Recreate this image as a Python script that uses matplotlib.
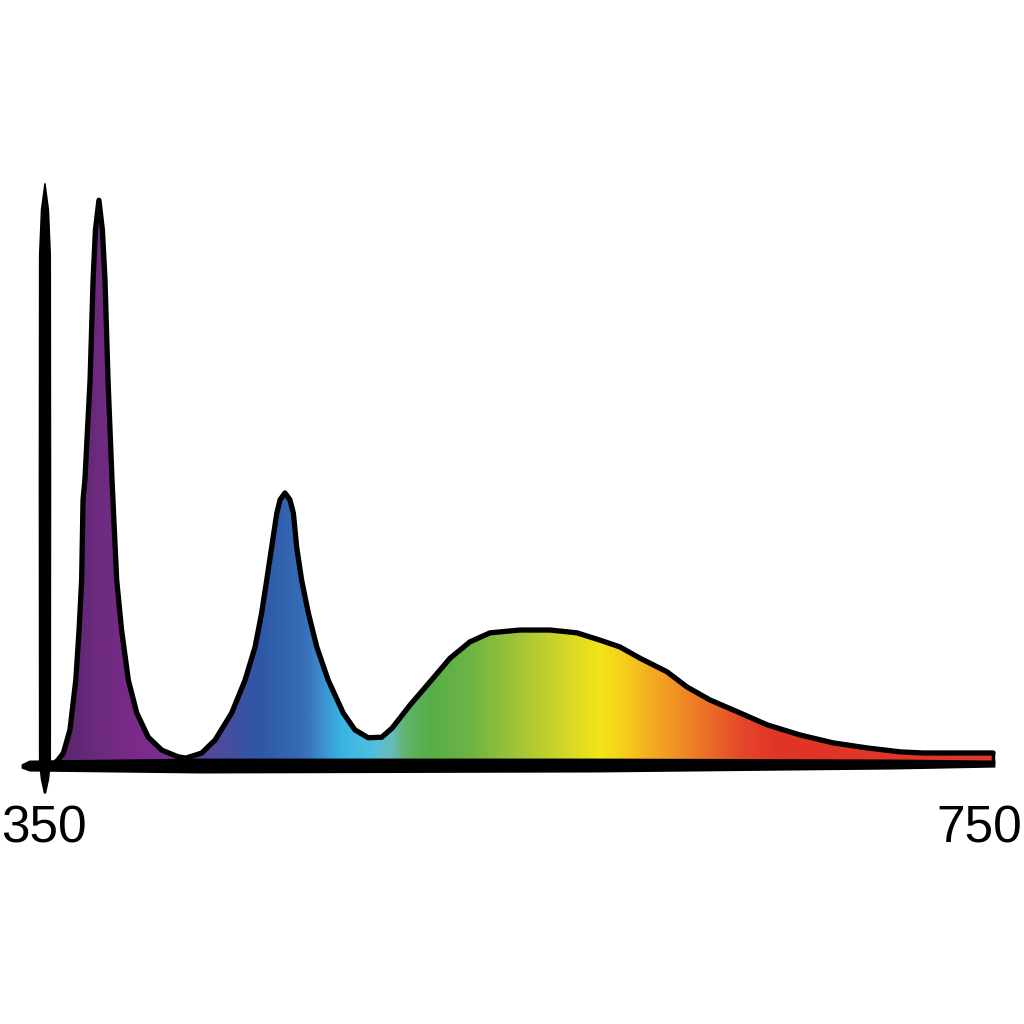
import numpy as np
import matplotlib
matplotlib.use("Agg")
import matplotlib.pyplot as plt
from matplotlib.colors import LinearSegmentedColormap
from matplotlib.patches import Polygon

# Spectrum: wavelength (nm) and relative intensity (tallest peak = 100)
wavelength = [355.1, 356.0, 358.3, 361.1, 363.6, 365.0, 366.1, 366.7, 367.5, 369.7, 371.0,
              372.0, 373.5, 375.0, 376.1, 377.4, 379.1, 381.1, 383.2, 386.1, 389.7,
              394.6, 400.4, 407.5, 410.7, 414.6, 417.5, 420.2, 423.2, 430.3, 436.0,
              440.3, 443.1, 445.3, 447.4, 449.6, 451.0, 453.1, 455.2, 456.7, 458.1,
              460.2, 463.1, 466.7, 471.6, 478.0, 483.0, 488.7, 494.5, 498.9, 506.6,
              515.1, 523.7, 532.2, 540.8, 553.6, 566.5, 578.0, 587.9, 596.4, 605.0,
              616.5, 625.1, 634.9, 647.8, 659.3, 673.4, 687.5, 702.1, 716.2, 726.0,
              741.9, 756.0]
intensity = [0.0, 0.35, 1.6, 5.7, 14.5, 23.4, 32.3, 46.5, 50.0, 67.7, 85.5,
             94.3, 99.6, 94.3, 85.5, 67.7, 50.0, 32.3, 23.4, 14.5, 8.7,
             4.4, 2.1, 0.9, 0.7, 1.2, 1.6, 2.7, 3.9, 8.7, 14.5,
             20.4, 26.4, 32.3, 38.1, 44.1, 46.5, 47.7, 46.5, 44.1, 38.1,
             32.3, 26.4, 20.4, 14.5, 8.7, 5.7, 4.3, 4.4, 6.0, 10.1,
             14.2, 18.4, 21.3, 22.9, 23.4, 23.4, 22.9, 21.6, 20.4, 18.4,
             16.0, 13.3, 11.0, 8.7, 6.6, 4.8, 3.4, 2.5, 1.8, 1.6,
             1.6, 1.6]

# colour of the fill along the wavelength axis
stop_nm = [355, 361, 374, 391, 410, 425, 442, 460, 468, 477, 489, 498, 504, 515,
           532, 549, 566, 579, 588, 599, 609, 622, 635, 650, 665, 760]
stop_colors = ["#5e2770", "#5e2770", "#6e2a80", "#7e2a8c", "#6f3a96", "#4b4c9e",
               "#2e58a6", "#376cb6", "#3d8ccb", "#3ab4e4", "#4bbfe0", "#68bcc0",
               "#5fb46a", "#58ad48", "#6cb444", "#98c23a", "#c4d02e", "#e2dc22",
               "#f4e41a", "#f6cc1c", "#f4ae20", "#ef8e24", "#ea6c28", "#e4442a",
               "#e03426", "#e03a2a"]

tick_pos = [350, 750]
tick_labels = ["350", "750"]

fig = plt.figure(figsize=(10.24, 10.24), dpi=100)
ax = fig.add_axes([0, 0, 1, 1])
ax.set_xlim(331.18, 769.25)
ax.set_ylim(-46.45, 135.1)
ax.axis("off")

# gradient fill clipped to the area under the curve
lo, hi = stop_nm[0], stop_nm[-1]
cmap = LinearSegmentedColormap.from_list(
    "spec", [((n - lo) / (hi - lo), c) for n, c in zip(stop_nm, stop_colors)])
grad = np.linspace(0, 1, 1200)[np.newaxis, :]
verts = list(zip(wavelength, intensity)) + [(wavelength[-1], 0), (wavelength[0], 0)]
poly = Polygon(verts, closed=True, facecolor="none", edgecolor="none")
ax.add_patch(poly)
im = ax.imshow(grad, extent=(lo, hi, -0.5, 101), aspect="auto", cmap=cmap,
               interpolation="bilinear", zorder=1)
im.set_clip_path(poly)

# outline
ax.plot(wavelength, intensity, color="black", lw=3.8,
        solid_capstyle="round", solid_joinstyle="round", zorder=3)
ax.plot([wavelength[-1], wavelength[-1]], [intensity[-1], 0], color="black", lw=2.5, zorder=3)

# hand drawn axes
xa = np.array([340.2, 343.6, 416.7, 586.5, 713.9, 756.8])
xa_top = np.array([-0.35, 0.35, 0.7, 0.7, 0.53, 0.35])
xa_bot = np.array([-1.06, -1.6, -1.95, -1.77, -1.24, -0.9])
ax.fill_between(xa, xa_bot, xa_top, color="black", lw=0, zorder=4)

ya = np.array([102.7, 98, 90, 50, 0, -3, -5.5])
ya_half = np.array([0.3, 1.8, 2.6, 2.7, 2.6, 1.8, 0.5])
ax.fill_betweenx(ya, 350.2 - ya_half, 350.2 + ya_half, color="black", lw=0, zorder=5)

for p, t in zip(tick_pos, tick_labels):
    ax.text(p, -11.9, t, ha="center", va="center", fontsize=37,
            family="Liberation Sans", color="black")

fig.savefig("out.png", dpi=100)
